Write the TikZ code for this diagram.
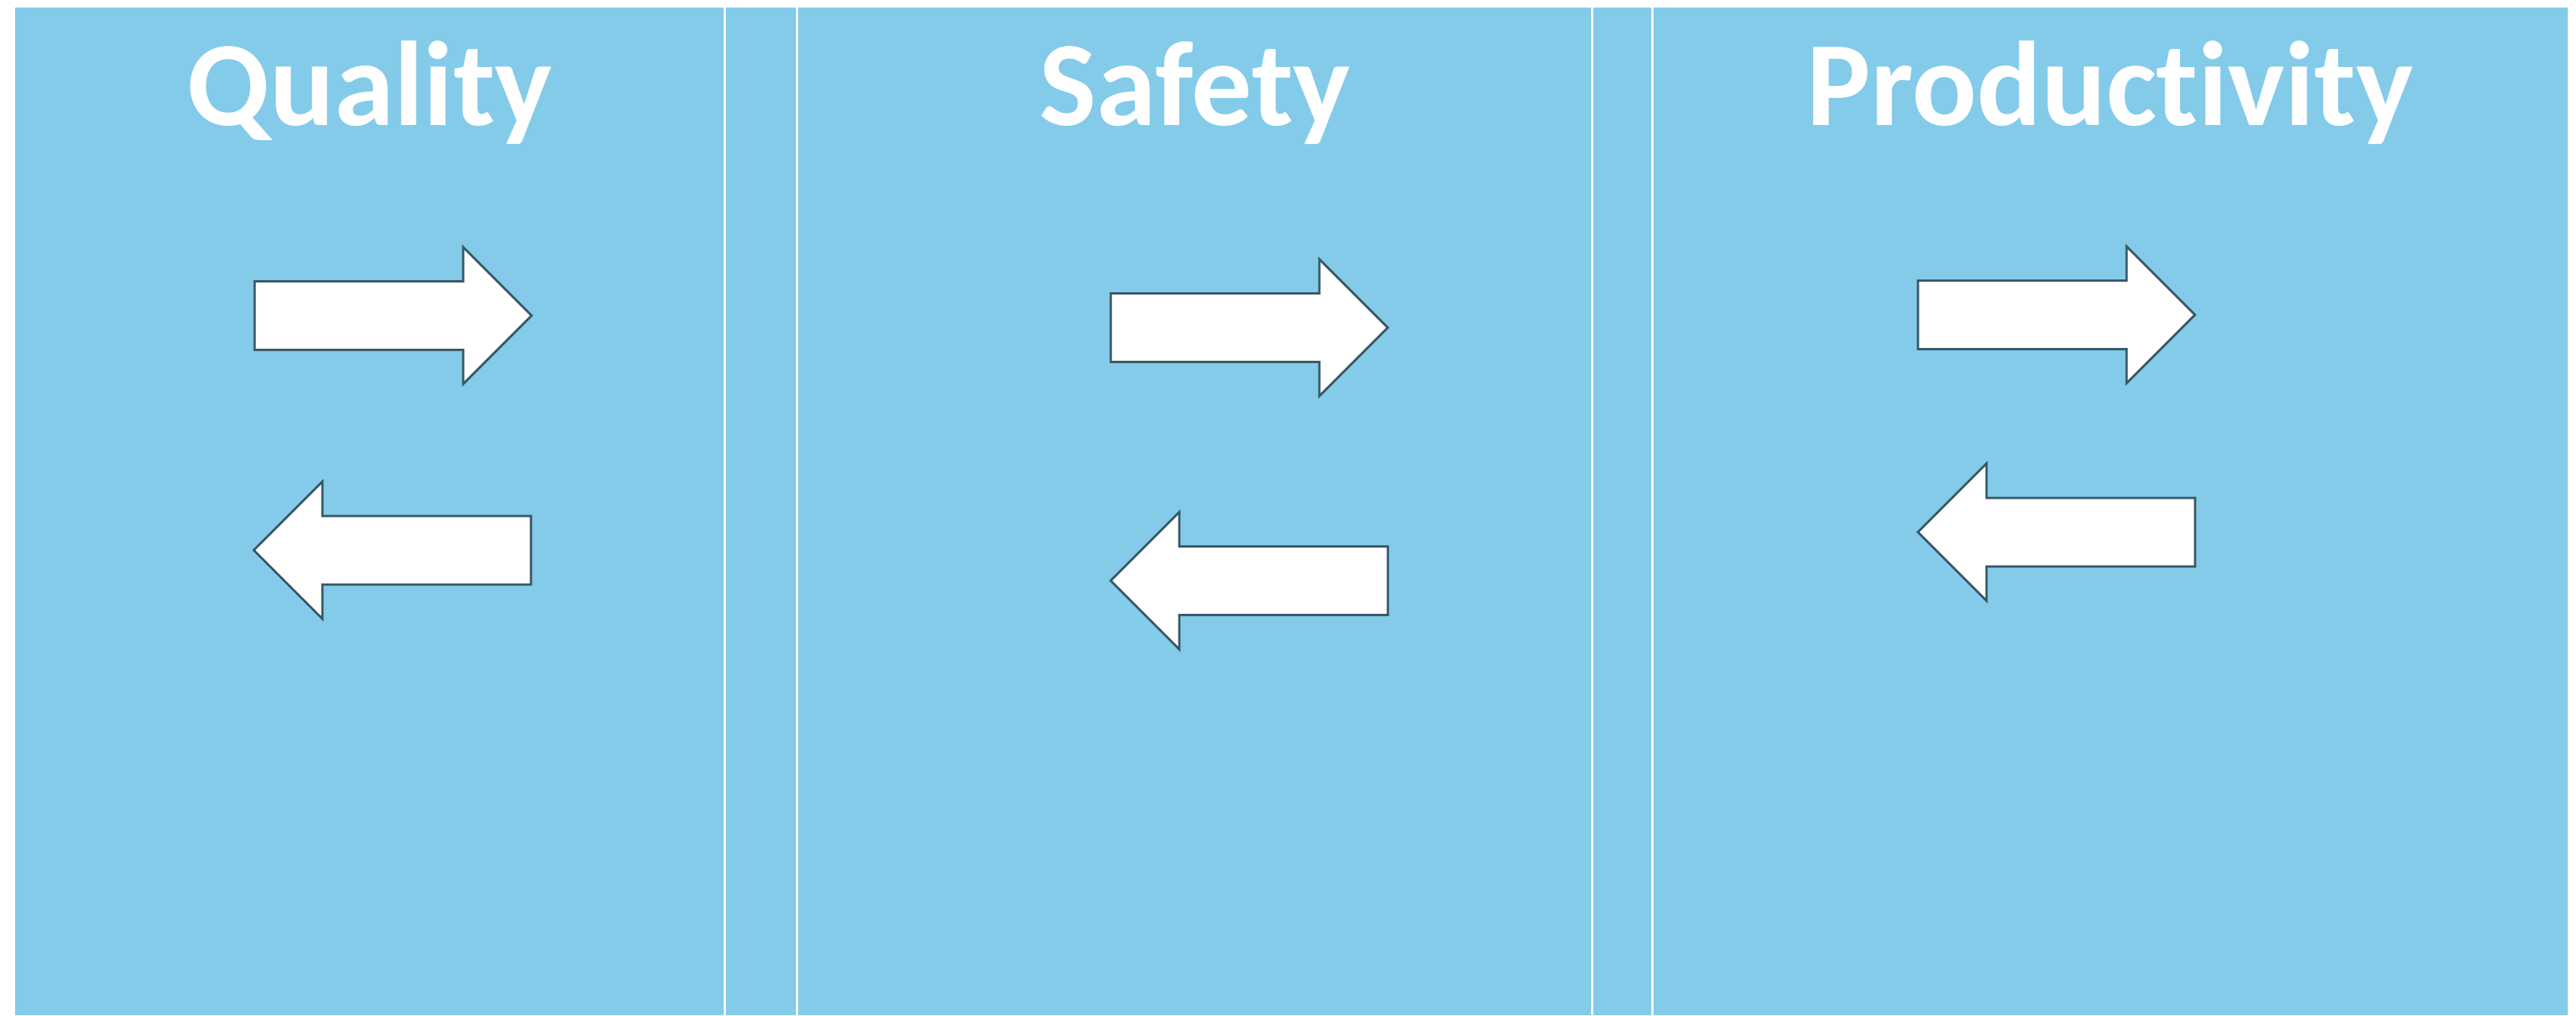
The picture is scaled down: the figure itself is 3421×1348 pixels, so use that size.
\documentclass[tikz,border=0pt]{standalone}
\usepackage{fontspec}
\setmainfont[Ligatures=NoCommon]{Carlito}
\definecolor{panelblue}{RGB}{132,203,234}
\definecolor{arrowedge}{RGB}{55,88,102}
\begin{document}
\begin{tikzpicture}[x=0.01cm,y=-0.01cm,
  panel/.style={fill=panelblue,draw=none},
  divider/.style={draw=white,line width=3*0.2845pt},
  arrowline/.style={draw=arrowedge,fill=white,line width=3*0.2845pt,line join=miter},
  title/.style={anchor=base,text=white,font=\bfseries\fontsize{45.5}{50}\selectfont,inner sep=0pt},
  rarr/.pic={\path[arrowline] (0,-45.5) -- (277,-45.5) -- (277,-91) -- (368,0) -- (277,91) -- (277,45.5) -- (0,45.5) -- cycle;},
  larr/.pic={\path[arrowline] (0,0) -- (91,-91) -- (91,-45.5) -- (368,-45.5) -- (368,45.5) -- (91,45.5) -- (91,91) -- cycle;}
]
\useasboundingbox (0,0) rectangle (3421,1348);
\fill[white] (0,0) rectangle (3421,1348);
\path[panel] (20,10) rectangle (3410,1348);
\draw[divider] (962.7,10) -- (962.7,1348);
\draw[divider] (1058.8,10) -- (1058.8,1348);
\draw[divider] (2114.8,10) -- (2114.8,1348);
\draw[divider] (2194.8,10) -- (2194.8,1348);

\node[title] (quality) at (491,166) {Quality};
\node[title] (safety) at (1587,166) {Safety};
\node[title] (productivity) at (2802,166) {Productivity};

\pic at (338,419) {rarr};
\pic at (337,730.5) {larr};
\pic at (1475,435) {rarr};
\pic at (1475,771) {larr};
\pic at (2547,418) {rarr};
\pic at (2547,706.5) {larr};
\end{tikzpicture}
\end{document}
